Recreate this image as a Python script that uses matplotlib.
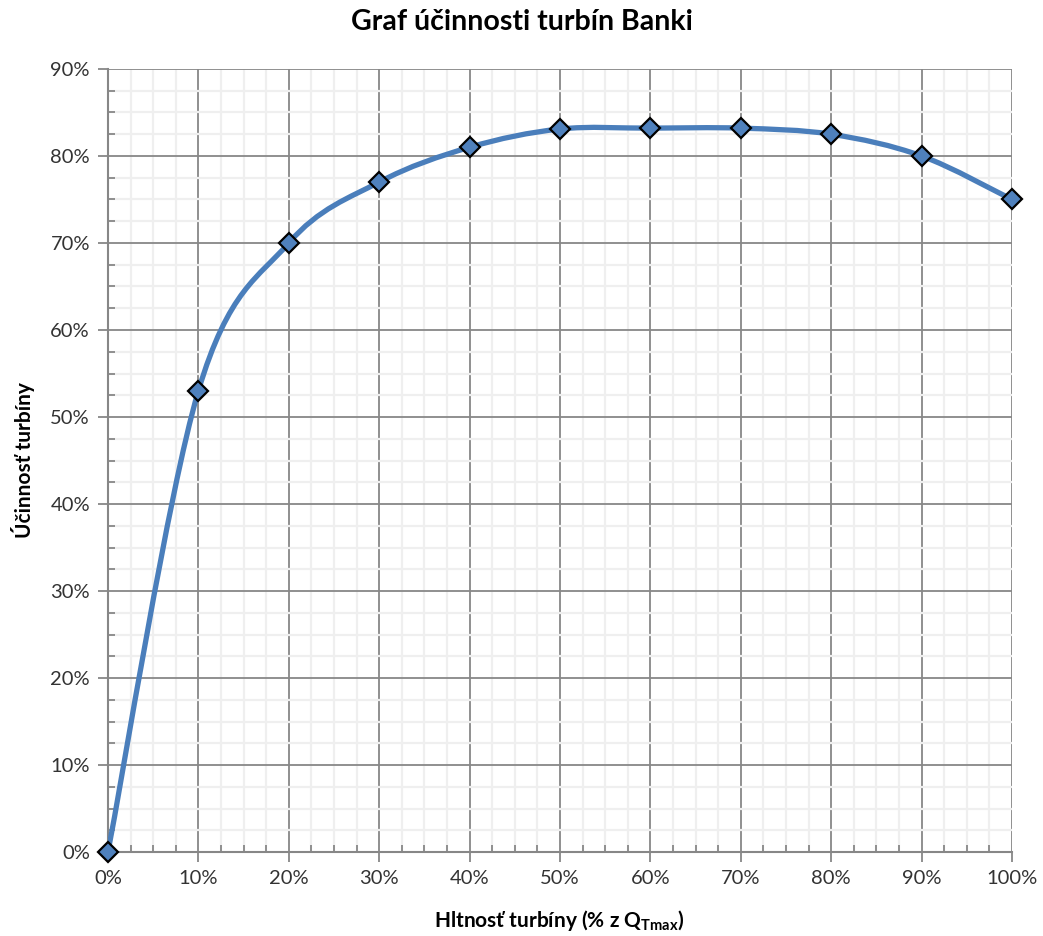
import matplotlib
matplotlib.use("Agg")
import matplotlib.pyplot as plt
from matplotlib.path import Path
from matplotlib.patches import PathPatch
from matplotlib.ticker import MultipleLocator, FuncFormatter
import numpy as np

# Turbine flow (% of Q_Tmax) and measured efficiency (%)
flow = [0, 10, 20, 30, 40, 50, 60, 70, 80, 90, 100]
efficiency = [0, 53, 70, 77, 81, 83.1, 83.2, 83.2, 82.5, 80, 75]

title = "Graf účinnosti turbín Banki"
xlabel = r"Hltnosť turbíny (% z Q$_{\mathregular{Tmax}}$)"
ylabel = "Účinnosť turbíny"

plt.rcParams["font.family"] = ["Lato", "DejaVu Sans"]

fig = plt.figure(figsize=(10.43, 9.36), dpi=100)
ax = fig.add_axes([0.1035, 0.0897, 0.8668, 0.8366])

ax.set_xlim(0, 100)
ax.set_ylim(0, 90)

grid_major = "#878787"
grid_minor = "#efefef"

ax.xaxis.set_major_locator(MultipleLocator(10))
ax.xaxis.set_minor_locator(MultipleLocator(2.5))
ax.yaxis.set_major_locator(MultipleLocator(10))
ax.yaxis.set_minor_locator(MultipleLocator(2.5))
pct = FuncFormatter(lambda v, p: f"{v:.0f}%")
ax.xaxis.set_major_formatter(pct)
ax.yaxis.set_major_formatter(pct)

ax.grid(which="minor", color=grid_minor, linewidth=1.6, zorder=0)
ax.grid(which="major", color=grid_major, linewidth=1.3, zorder=0.5)
ax.set_axisbelow(True)

for side in ("top", "right"):
    ax.spines[side].set_visible(False)
for side in ("left", "bottom"):
    ax.spines[side].set_color(grid_major)
    ax.spines[side].set_linewidth(1.5)

ax.tick_params(which="major", direction="out", length=7, width=1.3,
               color=grid_major, labelsize=14.5, labelcolor="#333333", pad=6)
ax.tick_params(which="minor", direction="in", length=5, width=1.3,
               color=grid_major)

# Smoothed curve through the points (cubic Bezier, Catmull-Rom style tangents)
pts = np.column_stack([flow, efficiency]).astype(float)
n = len(pts)
verts = [tuple(pts[0])]
codes = [Path.MOVETO]
t = 1.0 / 6.0
for i in range(n - 1):
    p0 = pts[i - 1] if i > 0 else pts[i]
    p1 = pts[i]
    p2 = pts[i + 1]
    p3 = pts[i + 2] if i + 2 < n else pts[i + 1]
    c1 = p1 + (p2 - p0) * t
    c2 = p2 - (p3 - p1) * t
    verts += [tuple(c1), tuple(c2), tuple(p2)]
    codes += [Path.CURVE4] * 3
curve = PathPatch(Path(verts, codes), facecolor="none", edgecolor="#4a7ebb",
                  linewidth=3.8, capstyle="round", joinstyle="round", zorder=3)
ax.add_patch(curve)

ax.plot(flow, efficiency, linestyle="none", marker="D", markersize=10.5,
        markerfacecolor="#4f81bd", markeredgecolor="#000000",
        markeredgewidth=1.6, zorder=4, clip_on=False)

fig.text(0.5, 0.977, title, ha="center", va="center", fontsize=20.5,
         fontweight="bold", color="#000000")
fig.text(0.536, 0.017, xlabel, ha="center", va="center", fontsize=15,
         fontweight="bold", color="#000000")
fig.text(0.022, 0.509, ylabel, ha="center", va="center", rotation=90,
         fontsize=15, fontweight="bold", color="#000000")

fig.savefig("out.png", dpi=100, facecolor="white")
